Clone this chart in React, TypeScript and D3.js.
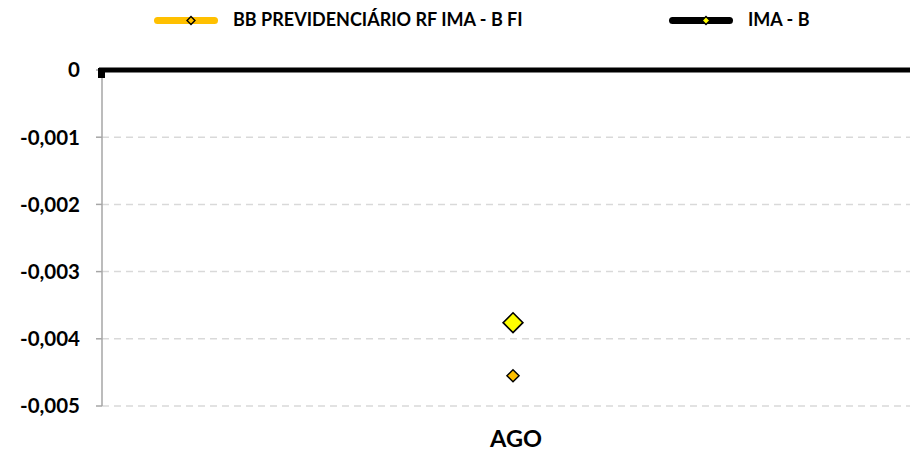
import * as d3 from "d3";
import React, { useEffect, useRef } from "react";

const categories = ["AGO"];
const fundValues = [-0.00455];
const benchValues = [-0.00376];
const yTicks = [0, -0.001, -0.002, -0.003, -0.004, -0.005];
const seriesNames = ["BB PREVIDENCIÁRIO RF IMA - B FI", "IMA - B"];

const W = 910;
const H = 452;
const FONT = "Lato, 'Open Sans', sans-serif";

const App: React.FC = () => {
    const svgRef = useRef<SVGSVGElement>(null);

    useEffect(() => {
        if (!svgRef.current) return;
        const svg = d3.select(svgRef.current);
        svg.selectAll("*").remove();

        const left = 102;
        const right = 924;
        const top = 70;
        const bottom = 406;

        const x = d3.scaleBand<string>().domain(categories).range([left, right]);
        const y = d3.scaleLinear().domain([-0.005, 0]).range([bottom, top]);
        const fmt = (v: number) =>
            v === 0 ? "0" : d3.format(".3f")(v).replace("−", "-").replace(".", ",");

        // gridlines
        svg.append("g")
            .selectAll("line")
            .data(yTicks.filter((t) => t !== 0))
            .join("line")
            .attr("x1", left)
            .attr("x2", right)
            .attr("y1", (d) => y(d))
            .attr("y2", (d) => y(d))
            .attr("stroke", "#d9d9d9")
            .attr("stroke-width", 1.5)
            .attr("stroke-dasharray", "7,5");

        // y axis
        svg.append("line")
            .attr("x1", left)
            .attr("x2", left)
            .attr("y1", top)
            .attr("y2", bottom)
            .attr("stroke", "#a6a6a6")
            .attr("stroke-width", 1.5);

        svg.append("g")
            .selectAll("line")
            .data(yTicks)
            .join("line")
            .attr("x1", left - 6)
            .attr("x2", left)
            .attr("y1", (d) => y(d))
            .attr("y2", (d) => y(d))
            .attr("stroke", "#a6a6a6")
            .attr("stroke-width", 1.5);

        svg.append("g")
            .selectAll("text")
            .data(yTicks)
            .join("text")
            .attr("x", 80)
            .attr("y", (d) => y(d))
            .attr("dy", "0.36em")
            .attr("text-anchor", "end")
            .attr("font-family", FONT)
            .attr("font-weight", "bold")
            .attr("font-size", 20.5)
            .attr("fill", "#000")
            .text((d) => fmt(d));

        // zero line (thick black)
        svg.append("line")
            .attr("x1", left - 3)
            .attr("x2", right)
            .attr("y1", y(0))
            .attr("y2", y(0))
            .attr("stroke", "#000")
            .attr("stroke-width", 5);
        svg.append("rect")
            .attr("x", left - 4)
            .attr("y", y(0) - 2)
            .attr("width", 7)
            .attr("height", 10)
            .attr("fill", "#000");

        // category label
        svg.append("g")
            .selectAll("text")
            .data(categories)
            .join("text")
            .attr("x", (d) => (x(d) as number) + x.bandwidth() / 2 + 3)
            .attr("y", 447)
            .attr("text-anchor", "middle")
            .attr("font-family", FONT)
            .attr("font-weight", "bold")
            .attr("font-size", 23.5)
            .text((d) => d);

        const diamond = (size: number) => d3.symbol().type(d3.symbolDiamond2).size(size)();
        const cx = (i: number) => (x(categories[i]) as number) + x.bandwidth() / 2;

        // markers
        svg.append("g")
            .selectAll("path")
            .data(benchValues)
            .join("path")
            .attr("d", diamond(250))
            .attr("transform", (d, i) => `translate(${cx(i)},${y(d)})`)
            .attr("fill", "#ffff00")
            .attr("stroke", "#000")
            .attr("stroke-width", 1.6);

        svg.append("g")
            .selectAll("path")
            .data(fundValues)
            .join("path")
            .attr("d", diamond(95))
            .attr("transform", (d, i) => `translate(${cx(i)},${y(d)})`)
            .attr("fill", "#ffc000")
            .attr("stroke", "#000")
            .attr("stroke-width", 1.4);

        // legend
        const legend = [
            { name: seriesNames[0], x: 154, line: "#ffc000", fill: "#ffc000", textX: 233 },
            { name: seriesNames[1], x: 669, line: "#000", fill: "#ffff00", textX: 748 },
        ];
        const lg = svg.append("g").selectAll("g").data(legend).join("g");
        lg.append("line")
            .attr("x1", (d) => d.x + 3.5)
            .attr("x2", (d) => d.x + 60.5)
            .attr("y1", 20.5)
            .attr("y2", 20.5)
            .attr("stroke", (d) => d.line)
            .attr("stroke-width", 7)
            .attr("stroke-linecap", "round");
        lg.append("path")
            .attr("d", diamond(40))
            .attr("transform", (d) => `translate(${d.x + 37},20.5)`)
            .attr("fill", (d) => d.fill)
            .attr("stroke", "#000")
            .attr("stroke-width", 1.4);
        lg.append("text")
            .attr("x", (d) => d.textX)
            .attr("y", 26)
            .attr("font-family", FONT)
            .attr("font-weight", "bold")
            .attr("font-size", 18)
            .text((d) => d.name);
    }, []);

    return (
        <svg
            ref={svgRef}
            width={W}
            height={H}
            style={{ display: "block", position: "absolute", left: 0, top: 0 }}
        />
    );
};

export default App;
